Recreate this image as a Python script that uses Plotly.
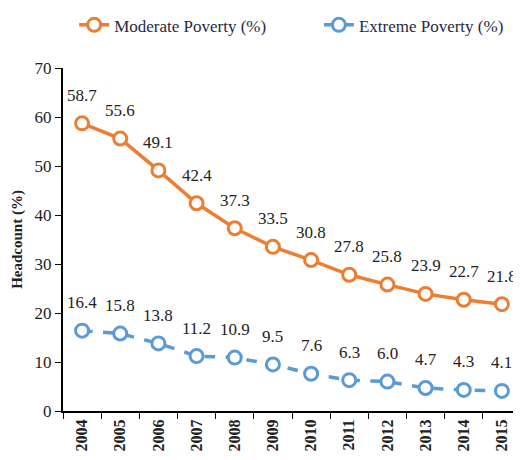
import plotly.graph_objects as go

years = ["2004","2005","2006","2007","2008","2009","2010","2011","2012","2013","2014","2015"]
moderate = [58.7,55.6,49.1,42.4,37.3,33.5,30.8,27.8,25.8,23.9,22.7,21.8]
extreme = [16.4,15.8,13.8,11.2,10.9,9.5,7.6,6.3,6.0,4.7,4.3,4.1]

orange = "#ED7D31"
blue = "#5B9BD5"
font = "Liberation Serif, Times New Roman, serif"

fig = go.Figure()
fig.add_trace(go.Scatter(
    x=years, y=moderate, name="Moderate Poverty (%)", mode="lines+markers",
    line=dict(color=orange, width=3.5),
    marker=dict(symbol="circle", size=13, color="white", line=dict(color=orange, width=3)),
    cliponaxis=False, legend="legend"))
fig.add_trace(go.Scatter(
    x=years, y=extreme, name="Extreme Poverty (%)", mode="lines+markers",
    line=dict(color=blue, width=3.5, dash="dash"),
    marker=dict(symbol="circle", size=13, color="white", line=dict(color=blue, width=3)),
    cliponaxis=False, legend="legend2"))

annotations = []
for series in (moderate, extreme):
    for i, v in enumerate(series):
        annotations.append(dict(x=i, y=v, xref="x", yref="y", text=f"{v:.1f}", showarrow=False,
                                yshift=28, font=dict(family=font, size=17, color="#222")))

legend_font = dict(family=font, size=17, color="#1f2a44")
fig.update_layout(
    width=513, height=444,
    margin=dict(l=55, r=0, t=60, b=41, autoexpand=False),
    paper_bgcolor="white", plot_bgcolor="white",
    font=dict(family=font, size=15, color="#222"),
    showlegend=True,
    legend=dict(orientation="h", x=0.129, xanchor="left", xref="container",
                y=0.961, yanchor="middle", yref="container", font=legend_font),
    legend2=dict(orientation="h", x=0.606, xanchor="left", xref="container",
                 y=0.961, yanchor="middle", yref="container", font=legend_font),
    annotations=annotations,
)
fig.update_xaxes(
    type="category", tickson="boundaries", ticks="outside", ticklen=6, tickcolor="black",
    showline=True, linecolor="black", linewidth=2, showgrid=False, tickangle=-90,
    automargin=False,
    tickfont=dict(family=font, size=16, color="#222", weight="bold"), range=[-0.5, 11.5])
fig.update_yaxes(
    range=[0, 70], dtick=10, ticks="outside", ticklen=6, tickcolor="black",
    showline=True, linecolor="black", linewidth=2, showgrid=False, zeroline=False,
    automargin=False,
    tickfont=dict(family=font, size=17, color="#222"),
    title=dict(text="<b>Headcount (%)</b>", font=dict(family=font, size=15, color="#222"), standoff=8))

fig.write_html("out.html")
